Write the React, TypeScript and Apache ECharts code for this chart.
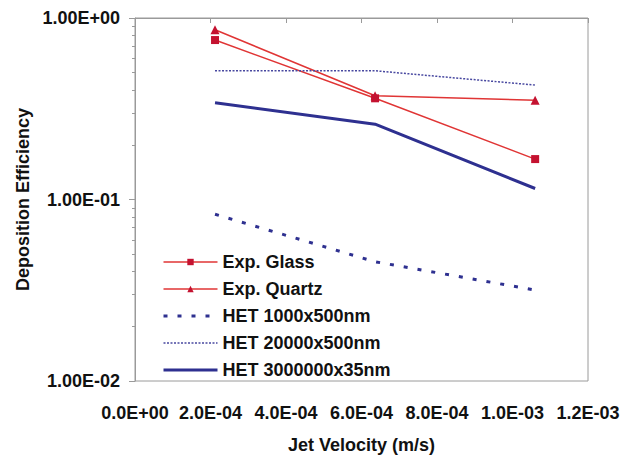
import React, { useEffect, useRef } from 'react';
import * as echarts from 'echarts';

// Jet velocity (m/s)
const xValues = [2.12e-4, 6.36e-4, 1.06e-3];
// Deposition efficiency per series
const expGlass = [0.756, 0.361, 0.167];
const expQuartz = [0.861, 0.373, 0.352];
const het1000x500 = [0.0829, 0.0454, 0.0317];
const het20000x500 = [0.512, 0.512, 0.427];
const het3000000x35 = [0.341, 0.26, 0.115];

const seriesNames = ['Exp. Glass', 'Exp. Quartz', 'HET 1000x500nm', 'HET 20000x500nm', 'HET 3000000x35nm'];

// minor (log) tick values on the y axis
const minorTickValues = [0.02, 0.03, 0.04, 0.05, 0.06, 0.07, 0.08, 0.09, 0.2, 0.3, 0.4, 0.5, 0.6, 0.7, 0.8, 0.9];

const FONT = 'Arial, "Liberation Sans", Helvetica, sans-serif';
const RED_LINE = '#E03535';
const RED_MARK = '#C41230';
const NAVY = '#2E3090';
const NAVY_LIGHT = '#4848A0';
const AXIS_GRAY = '#9a9a9a';

function sci(v: number, digits: number): string {
  const [m, e] = v.toExponential(digits).split('e');
  const n = parseInt(e, 10);
  const sign = n < 0 ? '-' : '+';
  return m + 'E' + sign + String(Math.abs(n)).padStart(2, '0');
}

function pairs(ys: number[]) {
  return xValues.map((x, i) => [x, ys[i]]);
}

export default function App() {
  const ref = useRef<HTMLDivElement>(null);

  useEffect(() => {
    if (!ref.current) return;
    const chart = echarts.init(ref.current, null, { renderer: 'svg' });
    const labelText = { fontFamily: FONT, fontSize: 18, fontWeight: 'bold' as const, color: '#111' };

    chart.setOption({
      animation: false,
      backgroundColor: '#fff',
      grid: {
        left: 135,
        right: 43,
        top: 18,
        bottom: 75,
        outerBoundsMode: 'none',
        containLabel: false,
        show: true,
        borderColor: AXIS_GRAY,
        borderWidth: 1,
        backgroundColor: 'transparent',
      },
      xAxis: {
        type: 'value',
        min: 0,
        max: 0.0012,
        interval: 0.0002,
        name: 'Jet Velocity (m/s)',
        nameLocation: 'middle',
        nameGap: 55,
        nameTextStyle: { fontFamily: FONT, fontSize: 18, fontWeight: 'bold', color: '#111' },
        axisLine: { show: true, lineStyle: { color: AXIS_GRAY, width: 1 } },
        axisTick: { show: true, length: 5, lineStyle: { color: AXIS_GRAY } },
        axisLabel: { ...labelText, margin: 23, formatter: (v: number) => sci(v, 1) },
        splitLine: { show: false },
      },
      yAxis: [
        {
          type: 'log',
          logBase: 10,
          min: 0.01,
          max: 1,
          name: 'Deposition Efficiency',
          nameLocation: 'middle',
          nameGap: 102,
          nameTextStyle: { fontFamily: FONT, fontSize: 18, fontWeight: 'bold', color: '#111' },
          axisLine: { show: true, lineStyle: { color: AXIS_GRAY, width: 1 } },
          axisTick: { show: true, length: 6, lineStyle: { color: AXIS_GRAY } },
          axisLabel: { ...labelText, margin: 15, formatter: (v: number) => sci(v, 2) },
          splitLine: { show: false },
          minorTick: { show: false },
        },
        {
          type: 'value',
          min: -2,
          max: 0,
          position: 'left',
          offset: 0,
          axisLine: { show: false },
          axisLabel: { show: false },
          axisTick: {
            show: true,
            length: 3,
            customValues: minorTickValues.map((v) => Math.log10(v)),
            lineStyle: { color: AXIS_GRAY },
          },
          splitLine: { show: false },
        },
      ],
      legend: {
        orient: 'vertical',
        left: 157,
        top: 248,
        itemWidth: 54,
        itemHeight: 8,
        itemGap: 9,
        selectedMode: false,
        textStyle: { fontFamily: FONT, fontSize: 18, fontWeight: 'bold', color: '#111' },
        data: [
          { name: seriesNames[0], lineStyle: { width: 1.5 } },
          { name: seriesNames[1], lineStyle: { width: 1.5 } },
          { name: seriesNames[2], itemStyle: { opacity: 0 }, lineStyle: { width: 3 } },
          { name: seriesNames[3], itemStyle: { opacity: 0 }, lineStyle: { width: 1.5 } },
          { name: seriesNames[4], itemStyle: { opacity: 0 }, lineStyle: { width: 3 } },
        ],
      },
      series: [
        {
          name: seriesNames[0],
          type: 'line',
          yAxisIndex: 0,
          data: pairs(expGlass),
          symbol: 'rect',
          symbolSize: 8,
          lineStyle: { color: RED_LINE, width: 1.5 },
          itemStyle: { color: RED_MARK },
        },
        {
          name: seriesNames[1],
          type: 'line',
          yAxisIndex: 0,
          data: pairs(expQuartz),
          symbol: 'triangle',
          symbolSize: 9,
          lineStyle: { color: RED_LINE, width: 1.5 },
          itemStyle: { color: RED_MARK },
        },
        {
          name: seriesNames[2],
          type: 'line',
          yAxisIndex: 0,
          data: pairs(het1000x500),
          symbol: 'none',
          lineStyle: { color: NAVY, width: 3, type: [4, 10] },
          itemStyle: { color: NAVY },
        },
        {
          name: seriesNames[3],
          type: 'line',
          yAxisIndex: 0,
          data: pairs(het20000x500),
          symbol: 'none',
          lineStyle: { color: NAVY_LIGHT, width: 1.5, type: [2, 1.5] },
          itemStyle: { color: NAVY_LIGHT },
        },
        {
          name: seriesNames[4],
          type: 'line',
          yAxisIndex: 0,
          data: pairs(het3000000x35),
          symbol: 'none',
          lineStyle: { color: NAVY, width: 3 },
          itemStyle: { color: NAVY },
        },
      ],
    });
    return () => chart.dispose();
  }, []);

  return (
    <div
      ref={ref}
      style={{ position: 'fixed', left: 0, top: 0, width: 631, height: 456, background: '#fff' }}
    />
  );
}
